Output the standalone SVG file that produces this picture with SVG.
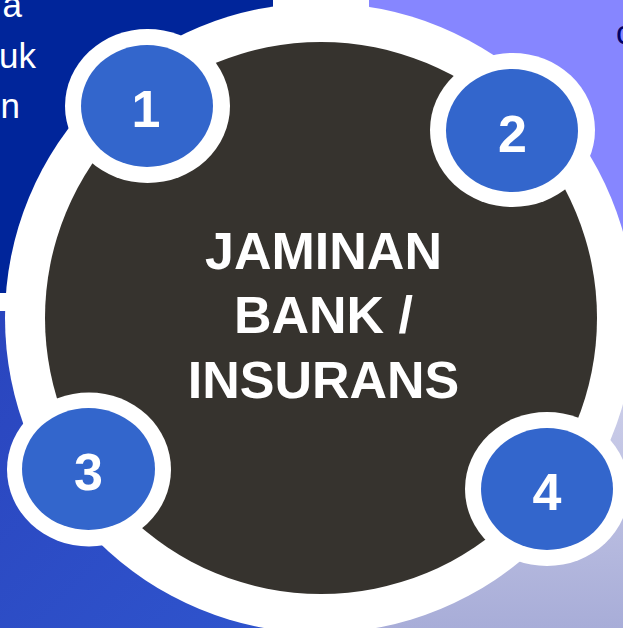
<svg xmlns="http://www.w3.org/2000/svg" width="623" height="628" viewBox="0 0 623 628">
<defs>
<linearGradient id="gBL" x1="0" y1="0" x2="1" y2="1">
<stop offset="0" stop-color="#2A45BE"/>
<stop offset="1" stop-color="#2F55CE"/>
</linearGradient>
<linearGradient id="gBR" x1="0" y1="0" x2="0" y2="1">
<stop offset="0" stop-color="#D6D7EE"/>
<stop offset="1" stop-color="#A8ADD8"/>
</linearGradient>
<style>
.bgtxt{font-family:"Liberation Sans",Arial,sans-serif;font-size:35px;fill:#FFFFFF}
.ring{fill:#FFFFFF}
.num{fill:#3366CC}
.numtxt{font-family:"Liberation Sans",Arial,sans-serif;font-size:52px;font-weight:bold;fill:#FFFFFF;text-anchor:middle}
.main{font-family:"Liberation Sans",Arial,sans-serif;font-size:52px;font-weight:bold;fill:#FFFFFF;text-anchor:middle}
</style>
</defs>
<rect width="623" height="628" fill="#FFFFFF"/>
<g id="background">
<rect x="0" y="0" width="273" height="293" fill="#00259A"/>
<rect x="369" y="0" width="254" height="300" fill="#8686FF"/>
<rect x="0" y="311" width="310" height="317" fill="url(#gBL)"/>
<rect x="330" y="330" width="293" height="298" fill="url(#gBR)"/>
<text class="bgtxt" x="22" y="17" text-anchor="end">a</text>
<text class="bgtxt" x="36" y="68" text-anchor="end">uk</text>
<text class="bgtxt" x="20" y="118" text-anchor="end">n</text>
<text x="616" y="44" style="font-family:'Liberation Sans',Arial,sans-serif;font-size:33px;fill:#000066">c</text>
</g>
<g id="connectors"/>
<g id="center">
<circle cx="320" cy="318" r="315" class="ring"/>
<circle cx="321" cy="318" r="276" fill="#36332E"/>
<text class="main" x="323.5" y="269">JAMINAN</text>
<text class="main" x="323.5" y="333">BANK /</text>
<text class="main" x="323.5" y="398">INSURANS</text>
</g>
<g id="node1">
<ellipse cx="147.5" cy="106" rx="82.5" ry="77" class="ring"/>
<ellipse cx="147" cy="106" rx="66" ry="61" class="num"/>
<text class="numtxt" x="146" y="127">1</text>
</g>
<g id="node2">
<ellipse cx="512.5" cy="130" rx="82.5" ry="77" class="ring"/>
<ellipse cx="512" cy="130.5" rx="66" ry="61.5" class="num"/>
<text class="numtxt" x="512.5" y="152">2</text>
</g>
<g id="node3">
<ellipse cx="89" cy="469.5" rx="82" ry="77" class="ring"/>
<ellipse cx="88.5" cy="469" rx="66.5" ry="61" class="num"/>
<text class="numtxt" x="88.5" y="490">3</text>
</g>
<g id="node4">
<ellipse cx="547" cy="489" rx="82" ry="77" class="ring"/>
<ellipse cx="547" cy="489" rx="66" ry="61" class="num"/>
<text class="numtxt" x="547" y="510">4</text>
</g>
</svg>
